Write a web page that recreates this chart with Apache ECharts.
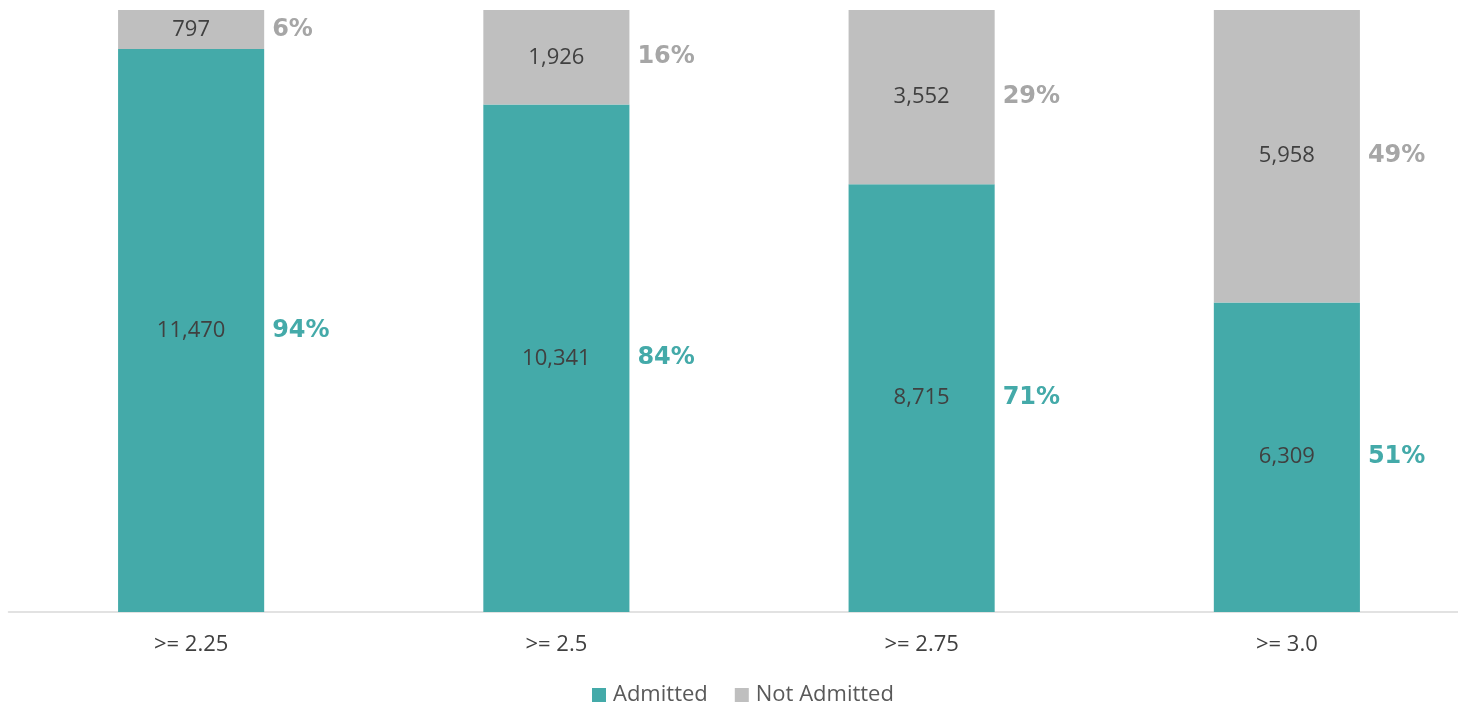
<!DOCTYPE html>
<html>
<head>
<meta charset="utf-8">
<script src="https://cdn.jsdelivr.net/npm/echarts@6/dist/echarts.min.js"></script>
<style>html,body{margin:0;padding:0;background:#fff}#c{width:1458px;height:707px}</style>
</head>
<body>
<div id="c"></div>
<script>
const categories = ['>= 2.25', '>= 2.5', '>= 2.75', '>= 3.0'];
const admitted = [11470, 10341, 8715, 6309];
const notAdmitted = [797, 1926, 3552, 5958];
const pctAdmitted = ['94%', '84%', '71%', '51%'];
const pctNotAdmitted = ['6%', '16%', '29%', '49%'];

const teal = '#44AAA9';
const grey = '#BFBFBF';
const total = Math.max(...admitted.map((v, i) => v + notAdmitted[i]));

const chart = echarts.init(document.getElementById('c'), null, {renderer: 'canvas'});
const countLabel = {
  show: true, position: 'inside', color: '#404040',
  fontFamily: 'Open Sans', fontSize: 22,
  formatter: p => p.value.toLocaleString('en-US')
};
chart.setOption({
  animation: false,
  grid: {left: 8.5, right: -11.5, top: 10, bottom: 95, containLabel: false, outerBoundsMode: 'none'},
  xAxis: {
    type: 'category', data: categories,
    axisLine: {lineStyle: {color: '#D9D9D9', width: 1.5}},
    axisTick: {show: false},
    axisLabel: {color: '#404040', fontFamily: 'Open Sans', fontSize: 22, margin: 22}
  },
  yAxis: {type: 'value', show: false, min: 0, max: total, splitLine: {show: false}},
  legend: {
    data: ['Admitted', 'Not Admitted'], top: 679, left: 587,
    icon: 'rect', itemWidth: 14, itemHeight: 14, itemGap: 27,
    textStyle: {color: '#595959', fontFamily: 'Open Sans', fontSize: 22, padding: [0, 0, 0, 2]}
  },
  series: [
    {name: 'Admitted', type: 'bar', stack: 'a', data: admitted, barWidth: '40%',
      itemStyle: {color: teal}, label: countLabel},
    {name: 'Not Admitted', type: 'bar', stack: 'a', data: notAdmitted, barWidth: '40%',
      itemStyle: {color: grey}, label: countLabel},
    {name: 'pA', type: 'bar', stack: 'b', data: admitted, barWidth: '40%', barGap: '-100%',
      itemStyle: {color: 'rgba(0,0,0,0)'}, silent: true,
      label: {show: true, position: 'right', distance: 8, color: teal,
        fontFamily: 'DejaVu Sans', fontWeight: 'bold', fontSize: 24,
        formatter: p => pctAdmitted[p.dataIndex]}},
    {name: 'pN', type: 'bar', stack: 'b', data: notAdmitted, barWidth: '40%', barGap: '-100%',
      itemStyle: {color: 'rgba(0,0,0,0)'}, silent: true,
      label: {show: true, position: 'right', distance: 8, color: '#A6A6A6',
        fontFamily: 'DejaVu Sans', fontWeight: 'bold', fontSize: 24,
        formatter: p => pctNotAdmitted[p.dataIndex]}}
  ]
});
</script>
</body>
</html>
